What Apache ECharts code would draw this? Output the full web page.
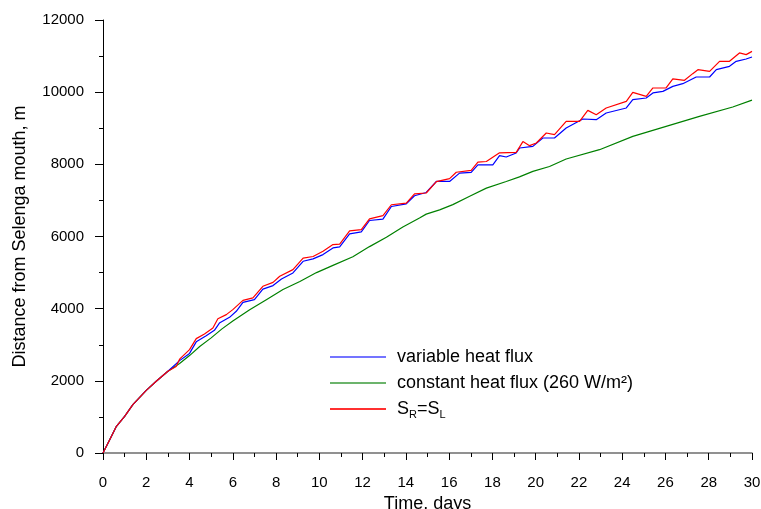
<!DOCTYPE html>
<html>
<head>
<meta charset="utf-8">
<script src="https://cdn.jsdelivr.net/npm/echarts@6/dist/echarts.min.js"></script>
<style>
  html, body { margin: 0; padding: 0; background: #fff; }
  #chart { width: 761px; height: 509px; }
</style>
</head>
<body>
<div id="chart"></div>
<script>
// [time (days), distance (m)]
const variableFlux = [
  [0, 0], [0.31, 370], [0.62, 739], [1, 1016], [1.38, 1340], [2, 1737], [2.46, 1987], [3, 2264],
  [3.54, 2560], [4, 2760], [4.31, 3080], [4.77, 3250], [5.15, 3400], [5.38, 3600], [5.85, 3760],
  [6.16, 3927], [6.47, 4176], [7.0, 4250], [7.39, 4540], [7.86, 4640], [8.25, 4820], [8.78, 4990],
  [9.25, 5313], [9.71, 5380], [10.17, 5498], [10.63, 5683], [10.94, 5710], [11.4, 6075], [11.94, 6130],
  [12.32, 6443], [12.94, 6480], [13.33, 6832], [14.02, 6905], [14.4, 7130], [14.94, 7220], [15.41, 7525],
  [16.02, 7525], [16.48, 7756], [17.02, 7775], [17.33, 7987], [18.02, 7987], [18.33, 8240], [18.64, 8204],
  [19.1, 8314], [19.26, 8453], [19.87, 8498], [20.33, 8730], [20.87, 8730], [21.41, 9007], [22.18, 9257],
  [22.8, 9238], [23.26, 9423], [24.19, 9562], [24.49, 9792], [25.11, 9839], [25.42, 9978], [25.88, 10022],
  [26.34, 10161], [26.8, 10235], [27.42, 10420], [28.04, 10420], [28.35, 10624], [28.96, 10716],
  [29.27, 10855], [29.73, 10920], [30, 10975]
];
const constantFlux = [
  [0, 0], [0.31, 370], [0.62, 739], [1, 1016], [1.38, 1340], [2, 1737], [2.46, 1987], [3, 2264],
  [3.54, 2480], [4, 2700], [4.47, 2950], [5, 3190], [5.5, 3440], [6, 3660], [6.78, 3970], [7.55, 4250],
  [8.32, 4530], [9.1, 4755], [9.87, 5000], [10.63, 5200], [11.55, 5440], [12.32, 5720], [13.1, 5980],
  [13.86, 6265], [14.63, 6514], [14.94, 6620], [15.56, 6739], [16.17, 6884], [16.95, 7115], [17.72, 7340],
  [18.64, 7525], [19.25, 7651], [19.87, 7805], [20.64, 7940], [21.41, 8148], [22.95, 8406], [24.49, 8775],
  [26.03, 9053], [27.57, 9330], [29.11, 9590], [30, 9780]
];
const equalS = [
  [0, 0], [0.31, 370], [0.62, 739], [1, 1016], [1.38, 1340], [2, 1737], [2.46, 1987], [3, 2264],
  [3.38, 2400], [3.54, 2600], [4, 2864], [4.31, 3170], [4.69, 3300], [5.08, 3465], [5.31, 3720],
  [5.7, 3835], [6.0, 3973], [6.47, 4230], [6.93, 4297], [7.39, 4620], [7.86, 4730], [8.17, 4897],
  [8.78, 5082], [9.25, 5400], [9.71, 5445], [10.17, 5590], [10.63, 5775], [10.94, 5790], [11.4, 6155],
  [11.94, 6190], [12.32, 6490], [12.94, 6580], [13.33, 6880], [14.02, 6927], [14.4, 7180], [14.94, 7205],
  [15.41, 7520], [16.02, 7605], [16.33, 7780], [17.02, 7833], [17.33, 8060], [17.72, 8079], [18.33, 8320],
  [19.1, 8330], [19.41, 8630], [19.72, 8517], [20.03, 8592], [20.49, 8869], [20.87, 8822], [21.41, 9191],
  [22.03, 9191], [22.41, 9496], [22.8, 9376], [23.26, 9562], [24.19, 9745], [24.49, 9995], [25.11, 9884],
  [25.42, 10116], [26.03, 10116], [26.34, 10366], [26.88, 10329], [27.26, 10513], [27.5, 10624],
  [28.04, 10578], [28.5, 10855], [28.96, 10855], [29.42, 11087], [29.73, 11040], [30, 11130]
];
const seriesNames = ["variable heat flux", "constant heat flux (260 W/m\u00b2)", "SR=SL"];

const font = "'Liberation Sans', Arial, sans-serif";
let myChart = echarts.init(document.getElementById("chart"));

let option = {
  backgroundColor: "#fff",
  animation: false,
  textStyle: { fontFamily: font, color: "#000" },
  grid: { left: 103, right: 9, top: 20, bottom: 56, outerBoundsMode: "none" },
  legend: {
    orient: "vertical",
    left: 325,
    top: 343,
    itemWidth: 56,
    itemHeight: 2,
    itemGap: 8,
    icon: "rect",
    data: [seriesNames[0], seriesNames[1], seriesNames[2]],
    textStyle: {
      fontFamily: font,
      fontSize: 18,
      color: "#000",
      padding: [0, 0, 0, 6],
      rich: {
        m: { fontFamily: font, fontSize: 18, lineHeight: 22, color: "#000" },
        s: { fontFamily: font, fontSize: 11, lineHeight: 11, verticalAlign: "bottom", color: "#000" },
      },
    },
    formatter: function (name) {
      if (name === "SR=SL") return "{m|S}{s|R}{m|=S}{s|L}";
      return name;
    },
  },
  xAxis: {
    type: "value",
    min: 0,
    max: 30,
    interval: 2,
    name: "Time, days",
    nameLocation: "middle",
    nameGap: 37,
    nameTextStyle: { fontFamily: font, fontSize: 18, color: "#000" },
    axisLine: { show: true, lineStyle: { color: "#6e6e6e", width: 1.5 } },
    axisTick: { show: true, length: 7, lineStyle: { color: "#000" } },
    minorTick: { show: true, splitNumber: 2, length: 4, lineStyle: { color: "#000" } },
    axisLabel: { fontFamily: font, fontSize: 15, color: "#000", margin: 22 },
    splitLine: { show: false },
  },
  yAxis: {
    type: "value",
    min: 0,
    max: 12000,
    interval: 2000,
    name: "Distance from Selenga mouth, m",
    nameLocation: "middle",
    nameGap: 74,
    nameTextStyle: { fontFamily: font, fontSize: 18, color: "#000" },
    axisLine: { show: true, lineStyle: { color: "#000", width: 1 } },
    axisTick: { show: true, length: 8, lineStyle: { color: "#000" } },
    minorTick: { show: true, splitNumber: 2, length: 4, lineStyle: { color: "#000" } },
    axisLabel: {
      fontFamily: font, fontSize: 15, color: "#000", margin: 19,
      formatter: function (v) { return String(v); },
    },
    splitLine: { show: false },
  },
  series: [
    {
      name: seriesNames[1],
      type: "line",
      symbol: "none",
      lineStyle: { color: "#008000", width: 1.2 },
      itemStyle: { color: "#6cb46c" },
      data: constantFlux,
    },
    {
      name: seriesNames[0],
      type: "line",
      symbol: "none",
      lineStyle: { color: "#0000ff", width: 1.2 },
      itemStyle: { color: "#7474ff" },
      data: variableFlux,
    },
    {
      name: seriesNames[2],
      type: "line",
      symbol: "none",
      lineStyle: { color: "#ff0000", width: 1.2 },
      itemStyle: { color: "#ff3030" },
      data: equalS,
    },
  ],
};
myChart.setOption(option);
</script>
</body>
</html>
